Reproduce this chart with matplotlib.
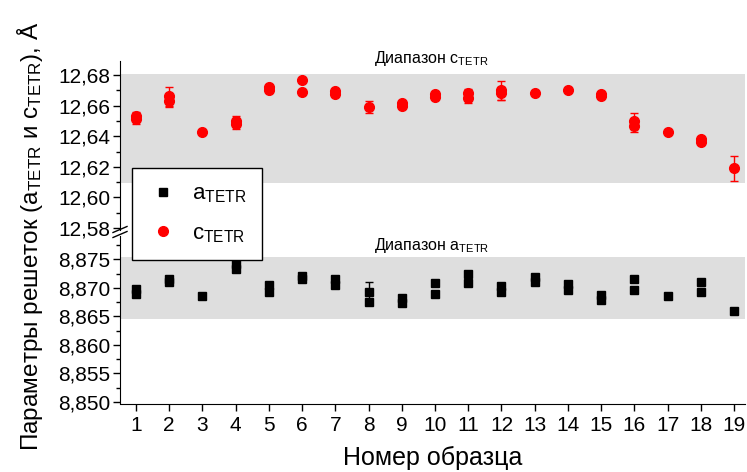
import matplotlib
matplotlib.use("Agg")
import matplotlib.pyplot as plt
from matplotlib.lines import Line2D
from matplotlib.ticker import MultipleLocator, FuncFormatter

plt.rcParams['font.family'] = ['Liberation Sans', 'DejaVu Sans']
plt.rcParams['mathtext.fontset'] = 'custom'
plt.rcParams['mathtext.rm'] = 'Liberation Sans'
plt.rcParams['mathtext.it'] = 'Liberation Sans'

samples = list(range(1, 20))

# c_TETR measurements (sample number, value, error), Å
c_sample = [1, 1, 2, 2, 3, 4, 4, 5, 5, 6, 6, 7, 7, 8, 9, 9, 10, 10,
            11, 11, 12, 12, 13, 14, 15, 15, 16, 16, 17, 18, 18, 19]
c_value = [12.653, 12.651, 12.666, 12.663, 12.643, 12.650, 12.648,
           12.672, 12.670, 12.677, 12.669, 12.6695, 12.6675, 12.659,
           12.662, 12.660, 12.6675, 12.6655, 12.668, 12.665, 12.670,
           12.668, 12.6685, 12.6705, 12.6675, 12.666, 12.650, 12.647,
           12.643, 12.638, 12.636, 12.619]
c_err = [0.003, 0.003, 0.006, 0.004, 0.001, 0.003, 0.003, 0.001, 0.001,
         0.0, 0.001, 0.001, 0.001, 0.004, 0.001, 0.001, 0.001, 0.001,
         0.003, 0.003, 0.006, 0.004, 0.001, 0.001, 0.001, 0.001, 0.005,
         0.004, 0.0, 0.001, 0.001, 0.008]

# a_TETR measurements (sample number, value, error), Å
a_sample = [1, 1, 2, 2, 3, 4, 4, 5, 5, 6, 6, 7, 7, 8, 8, 9, 9, 10, 10,
            11, 11, 12, 12, 13, 13, 14, 14, 15, 15, 16, 16, 17, 18, 18, 19]
a_value = [8.8698, 8.8689, 8.8716, 8.8710, 8.8685, 8.8741, 8.8733,
           8.8705, 8.8693, 8.8721, 8.8715, 8.8715, 8.8705, 8.8692,
           8.8675, 8.8683, 8.8674, 8.8708, 8.8690, 8.8725, 8.8708,
           8.8704, 8.8692, 8.8719, 8.8710, 8.8707, 8.8696, 8.8688,
           8.8678, 8.8715, 8.8696, 8.8685, 8.8710, 8.8692, 8.8659]
a_err = [0.0003, 0.0003, 0.0003, 0.0003, 0.0001, 0.0005, 0.0005,
         0.0003, 0.0003, 0.0002, 0.0002, 0.0003, 0.0003, 0.0019,
         0.0002, 0.0003, 0.0003, 0.0002, 0.0002, 0.0002, 0.0002,
         0.0004, 0.0004, 0.0003, 0.0003, 0.0003, 0.0003, 0.0003,
         0.0003, 0.0005, 0.0005, 0.0001, 0.0002, 0.0002, 0.0001]

# Reference ranges (shaded bands)
c_range = (12.6097, 12.6810)
a_range = (8.8645, 8.8755)

c_ticks = [12.58, 12.60, 12.62, 12.64, 12.66, 12.68]
a_ticks = [8.850, 8.855, 8.860, 8.865, 8.870, 8.875]

W, H = 747, 472
fig = plt.figure(figsize=(W / 100, H / 100), dpi=100)

left, right = 120 / W, 745 / W
ax_c = fig.add_axes([left, 1 - 230 / H, right - left, (230 - 61) / H])
ax_a = fig.add_axes([left, 1 - 403.5 / H, right - left, (403.5 - 236) / H])

xlim = (0.52, 19.33)
band_color = '#dedede'
tick_fs = 15

for ax in (ax_c, ax_a):
    ax.set_xlim(*xlim)
    ax.spines['top'].set_visible(False)
    ax.spines['right'].set_visible(False)
    ax.patch.set_alpha(0)
    ax.tick_params(axis='y', which='major', direction='out', length=5,
                   width=1, labelsize=tick_fs, pad=2)
    ax.tick_params(axis='y', which='minor', direction='out', length=3,
                   width=1)

# Upper panel: c_TETR
ax_c.axhspan(*c_range, color=band_color, lw=0, zorder=0)
ax_c.errorbar(c_sample, c_value, yerr=c_err, fmt='o', color='red',
              ms=7, mec='red', ecolor='red', elinewidth=1, capsize=3,
              capthick=1, zorder=3)
ax_c.set_ylim(12.5787, 12.6892)
ax_c.set_yticks(c_ticks)
ax_c.yaxis.set_minor_locator(MultipleLocator(0.01))
ax_c.yaxis.set_major_formatter(FuncFormatter(lambda v, p: f"{v:.2f}".replace('.', ',')))
ax_c.spines['bottom'].set_visible(False)
ax_c.set_xticks([])
ax_c.text(9.9, 12.6843, r'Диапазон $\mathregular{c_{TETR}}$',
          ha='center', va='bottom', fontsize=11.5)

# Lower panel: a_TETR
ax_a.axhspan(*a_range, color=band_color, lw=0, zorder=0)
ax_a.errorbar(a_sample, a_value, yerr=a_err, fmt='s', color='black',
              ms=6, mec='black', ecolor='black', elinewidth=1, capsize=3,
              capthick=1, zorder=3)
ax_a.set_ylim(8.8497, 8.8791)
ax_a.set_yticks(a_ticks)
ax_a.yaxis.set_minor_locator(MultipleLocator(0.0025))
ax_a.yaxis.set_major_formatter(FuncFormatter(lambda v, p: f"{v:.3f}".replace('.', ',')))
ax_a.set_xticks(samples)
ax_a.tick_params(axis='x', direction='out', length=5, width=1,
                 labelsize=tick_fs, pad=4)
ax_a.text(9.9, 8.8757, r'Диапазон $\mathregular{a_{TETR}}$',
          ha='center', va='bottom', fontsize=11.5)

ax_a.set_xlabel('Номер образца', fontsize=18, labelpad=8)

# Axis break marks on the left spine
for dy in (-2.5, 2.5):
    y0 = 1 - (232 + dy) / H
    fig.add_artist(Line2D([113 / W, 127 / W], [y0 - 3 / H, y0 + 3 / H],
                          transform=fig.transFigure, color='black', lw=1))

# Shared y label
fig.text(0.04, 0.5, r'Параметры решеток ($\mathregular{a_{TETR}}$ и $\mathregular{c_{TETR}}$), Å',
         rotation=90, ha='center', va='center', fontsize=17.5)

# Legend
handles = [Line2D([], [], ls='none', marker='s', color='black', ms=6),
           Line2D([], [], ls='none', marker='o', color='red', ms=7)]
labels = [r'$\mathregular{a_{TETR}}$', r'$\mathregular{c_{TETR}}$']
leg = fig.legend(handles, labels, loc='upper left',
                 bbox_to_anchor=(132 / W, 1 - 168 / H), fontsize=16,
                 frameon=True, fancybox=False, edgecolor='black',
                 framealpha=1, borderpad=0.7, labelspacing=0.8,
                 handletextpad=0.6, handlelength=1.4, borderaxespad=0)
leg.get_frame().set_linewidth(1)

fig.savefig('out.png', dpi=100)
